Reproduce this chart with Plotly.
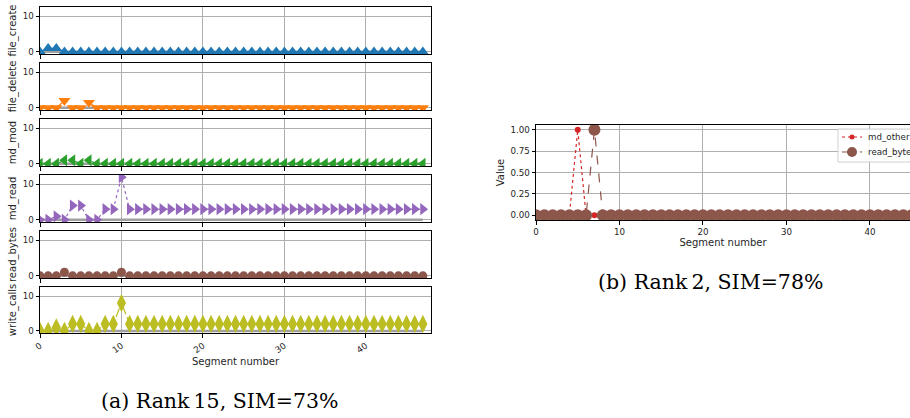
import plotly.graph_objects as go

W, H = 910, 418
segments = list(range(48))

def series(nonzero, base=0, n=48):
    v = [base] * n
    for k, val in nonzero.items():
        v[k] = val
    return v

file_create = series({1: 1, 2: 1})
file_delete = series({3: 2, 6: 1.5})
md_mod = series({3: 1, 4: 1, 6: 1})
md_read = [0, 0, 1, 0, 4, 4, 0, 0, 3, 3, 12] + [3] * 37
read_bytes = series({3: 1, 10: 1})
write_calls = [0, 0, 1, 0, 2, 2, 0, 0, 2, 2, 8] + [2] * 37

r2_md_other = series({5: 1})
r2_read_bytes = series({7: 1})

left_names = ["file_create", "file_delete", "md_mod", "md_read", "read_bytes", "write_calls"]
left_values = [file_create, file_delete, md_mod, md_read, read_bytes, write_calls]
left_colors = ["#1f77b4", "#ff7f0e", "#2ca02c", "#9467bd", "#8c564b", "#bcbd22"]
left_symbols = ["triangle-up", "triangle-down", "triangle-left", "triangle-right", "circle", "diamond-tall"]
left_sizes = [10.5, 10.5, 10.5, 10.5, 9, 13]
left_dash = ["solid", "dash", "dashdot", "dot", "dash", "dashdot"]

panels_px = [(7, 54), (63, 110), (119, 166), (175, 222), (231, 278), (287, 333)]
left_x = (40 / W, 431 / W)

FS = 8.7
fig = go.Figure()
layout = dict(
    width=W, height=H, margin=dict(l=0, r=0, t=0, b=0, autoexpand=False),
    paper_bgcolor="white", plot_bgcolor="white",
    font=dict(family="DejaVu Sans", size=FS, color="#262626"),
    showlegend=False,
)

grid = "#b0b0b0"
for i, (name, vals, col, sym, sz, dsh) in enumerate(
        zip(left_names, left_values, left_colors, left_symbols, left_sizes, left_dash)):
    n = i + 1
    xa = "x" if n == 1 else f"x{n}"
    ya = "y" if n == 1 else f"y{n}"
    fig.add_trace(go.Scatter(x=segments, y=[0] * len(segments), xaxis=xa, yaxis=ya,
                             mode="lines", line=dict(color="#a0a0a0", width=2.5),
                             showlegend=False, hoverinfo="skip"))
    fig.add_trace(go.Scatter(x=segments, y=vals, xaxis=xa, yaxis=ya, name=name,
                             mode="lines+markers",
                             line=dict(color=col, width=1.2, dash=dsh),
                             marker=dict(symbol=sym, size=sz, color=col),
                             showlegend=False))
    top, bot = panels_px[i]
    layout[f"xaxis{'' if n == 1 else n}"] = dict(
        domain=list(left_x), anchor=ya, range=[0, 48], automargin=False,
        tickvals=[0, 10, 20, 30, 40],
        showticklabels=(n == 6), tickangle=-35,
        ticks="outside", ticklen=3.5, tickcolor="black",
        showgrid=True, gridcolor=grid, gridwidth=1,
        showline=True, linecolor="black", linewidth=1, mirror=True, zeroline=False,
        title=dict(text="Segment number", standoff=3) if n == 6 else None,
    )
    layout[f"yaxis{'' if n == 1 else n}"] = dict(
        domain=[1 - bot / H, 1 - top / H], anchor=xa, range=[-0.6, 12.6], automargin=False,
        tickvals=[0, 10], ticks="outside", ticklen=3.5, tickcolor="black",
        showgrid=True, gridcolor=grid, gridwidth=1,
        showline=True, linecolor="black", linewidth=1, mirror=True, zeroline=False,
        title=dict(text=name, standoff=4),
    )

fig.add_trace(go.Scatter(x=segments, y=r2_md_other, xaxis="x7", yaxis="y7", name="md_other",
                         mode="lines+markers", line=dict(color="#d62728", width=1.2, dash="dot"),
                         marker=dict(symbol="circle", size=6, color="#d62728"), showlegend=False))
fig.add_trace(go.Scatter(x=segments, y=r2_read_bytes, xaxis="x7", yaxis="y7", name="read_bytes",
                         mode="lines+markers", line=dict(color="#8c564b", width=1.2, dash="dash"),
                         marker=dict(symbol="circle", size=12, color="#8c564b"), showlegend=False))

layout["xaxis7"] = dict(
    domain=[536 / W, 1.0], anchor="y7", range=[0, 44.8], automargin=False,
    tickvals=[0, 10, 20, 30, 40], ticks="outside", ticklen=3.5, tickcolor="black",
    showgrid=True, gridcolor=grid, gridwidth=1,
    showline=True, linecolor="black", linewidth=1, mirror=True, zeroline=False,
    title=dict(text="Segment number", standoff=2),
)
layout["yaxis7"] = dict(
    domain=[1 - 220 / H, 1 - 125 / H], anchor="x7", range=[-0.055, 1.055], automargin=False,
    tickvals=[0, 0.25, 0.5, 0.75, 1.0], tickformat=".2f",
    ticks="outside", ticklen=3.5, tickcolor="black",
    showgrid=True, gridcolor=grid, gridwidth=1,
    showline=True, linecolor="black", linewidth=1, zeroline=False,
    title=dict(text="Value", standoff=3),
)

def px(xp):
    return xp / W

def py(yp):
    return 1 - yp / H

legend_entries = [("md_other", "#d62728", "dot", 2.5, 137), ("read_bytes", "#8c564b", "dash", 5, 152)]
shapes = [dict(type="rect", xref="paper", yref="paper", x0=px(838), x1=px(925), y0=py(162), y1=py(129),
               line=dict(color="#d0d0d0", width=1), fillcolor="rgba(255,255,255,0.85)", layer="above")]
annotations = []
for label, col, dsh, rad, yy in legend_entries:
    shapes.append(dict(type="line", xref="paper", yref="paper", x0=px(842), x1=px(862), y0=py(yy), y1=py(yy),
                       line=dict(color=col, width=1.2, dash=dsh), layer="above"))
    shapes.append(dict(type="circle", xref="paper", yref="paper", x0=px(852 - rad), x1=px(852 + rad),
                       y0=py(yy + rad), y1=py(yy - rad), line=dict(color=col, width=0), fillcolor=col,
                       layer="above"))
    annotations.append(dict(text=label, x=px(866), y=py(yy), xref="paper", yref="paper",
                            xanchor="left", yanchor="middle", showarrow=False,
                            font=dict(size=FS, color="#262626")))

annotations += [
    dict(text="(a) Rank\u200915, SIM=73%", x=220 / W, y=1 - 401 / H, xref="paper", yref="paper",
         xanchor="center", yanchor="middle",
         showarrow=False, font=dict(family="DejaVu Serif", size=20.5, color="black")),
    dict(text="(b) Rank\u20092, SIM=78%", x=710 / W, y=1 - 282 / H, xref="paper", yref="paper",
         xanchor="center", yanchor="middle",
         showarrow=False, font=dict(family="DejaVu Serif", size=20.5, color="black")),
]
layout["shapes"] = shapes
layout["annotations"] = annotations

fig.update_layout(**layout)
fig.write_html("out.html", config={"displayModeBar": False},
               post_script="document.body.style.margin='0';document.body.style.overflow='hidden';")
